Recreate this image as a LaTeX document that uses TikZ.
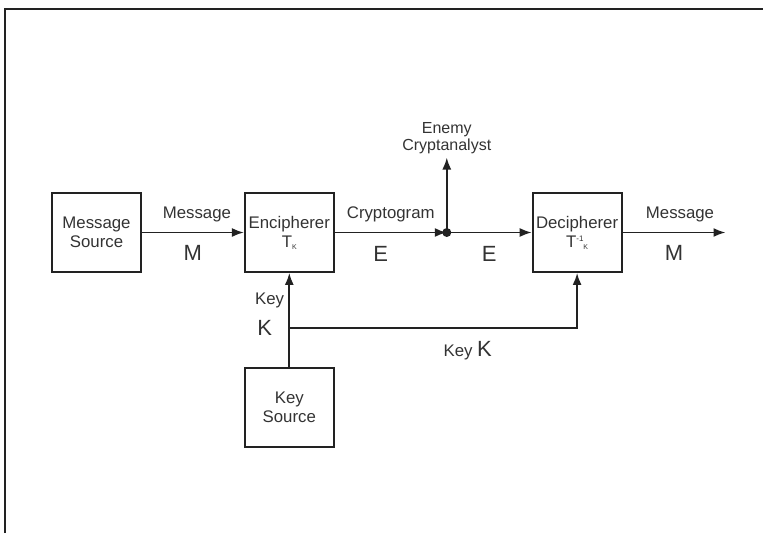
\documentclass[tikz,border=0pt]{standalone}
\usepackage{fontspec}
\setmainfont{Liberation Sans}
\usetikzlibrary{arrows.meta,positioning}

\definecolor{linegray}{HTML}{222222}
\definecolor{txtgray}{HTML}{333333}

\begin{document}
\begin{tikzpicture}[
  x=1pt,y=-1pt,
  >={Latex[length=12pt,width=9pt]},
  every node/.style={text=txtgray,font=\fontsize{16.8}{19}\selectfont},
  block/.style={draw=linegray,line width=1.8pt,minimum width=89pt,minimum height=79pt,
    align=center,inner sep=1pt},
  flow/.style={->,draw=linegray,line width=1.8pt},
  big/.style={font=\fontsize{22}{24}\selectfont},
  small/.style={font=\fontsize{16}{17}\selectfont,align=center}
]
  \useasboundingbox (0,0) rectangle (763,533);
  \draw[linegray,line width=2pt] (5,533) -- (5,9) -- (763,9);

  \node[block] (msgsrc) at (96.5,232.5) {Message\\Source};
  \node[block,right=102pt of msgsrc] (encipher) {Encipherer\\T\raisebox{-2pt}{\fontsize{7}{7}\selectfont K}};
  \node[block,right=197pt of encipher] (decipher)
    {Decipherer\\T\raisebox{6pt}{\fontsize{8}{8}\selectfont -1}\raisebox{-2pt}{\fontsize{7}{7}\selectfont K}};
  \node[block,below=94pt of encipher] (keysrc) {Key\\Source};

  \path (encipher) -- (decipher) coordinate[pos=0.569] (tap);
  \path (encipher.south) -- (keysrc.north) coordinate[pos=0.585] (kj);
  \coordinate[right=103pt of decipher.east] (out);
  \node[small,above=75pt of tap] (enemy) {Enemy\\Cryptanalyst};

  \draw[flow] (msgsrc) -- node[above=6pt,xshift=4pt]{Message} node[big,below=9pt]{M} (encipher);
  \draw[flow] (encipher) -- node[above=6pt]{Cryptogram} node[big,below=10pt,xshift=-10pt]{E} (tap);
  \draw[flow] (tap) -- node[big,below=10pt]{E} (decipher);
  \draw[flow] (tap) -- (enemy);
  \fill[linegray] (tap) circle (4.5pt);
  \draw[flow] (decipher) -- node[above=6pt,xshift=6pt]{Message} node[big,below=9pt]{M} (out);

  \draw[flow] (keysrc) -- (kj) node[big,left=13pt]{K} -- node[left=1pt]{Key} (encipher);
  \draw[flow] (kj) -| node[pos=0.31,below=9pt]{Key \fontsize{22}{24}\selectfont K} (decipher);
\end{tikzpicture}
\end{document}
